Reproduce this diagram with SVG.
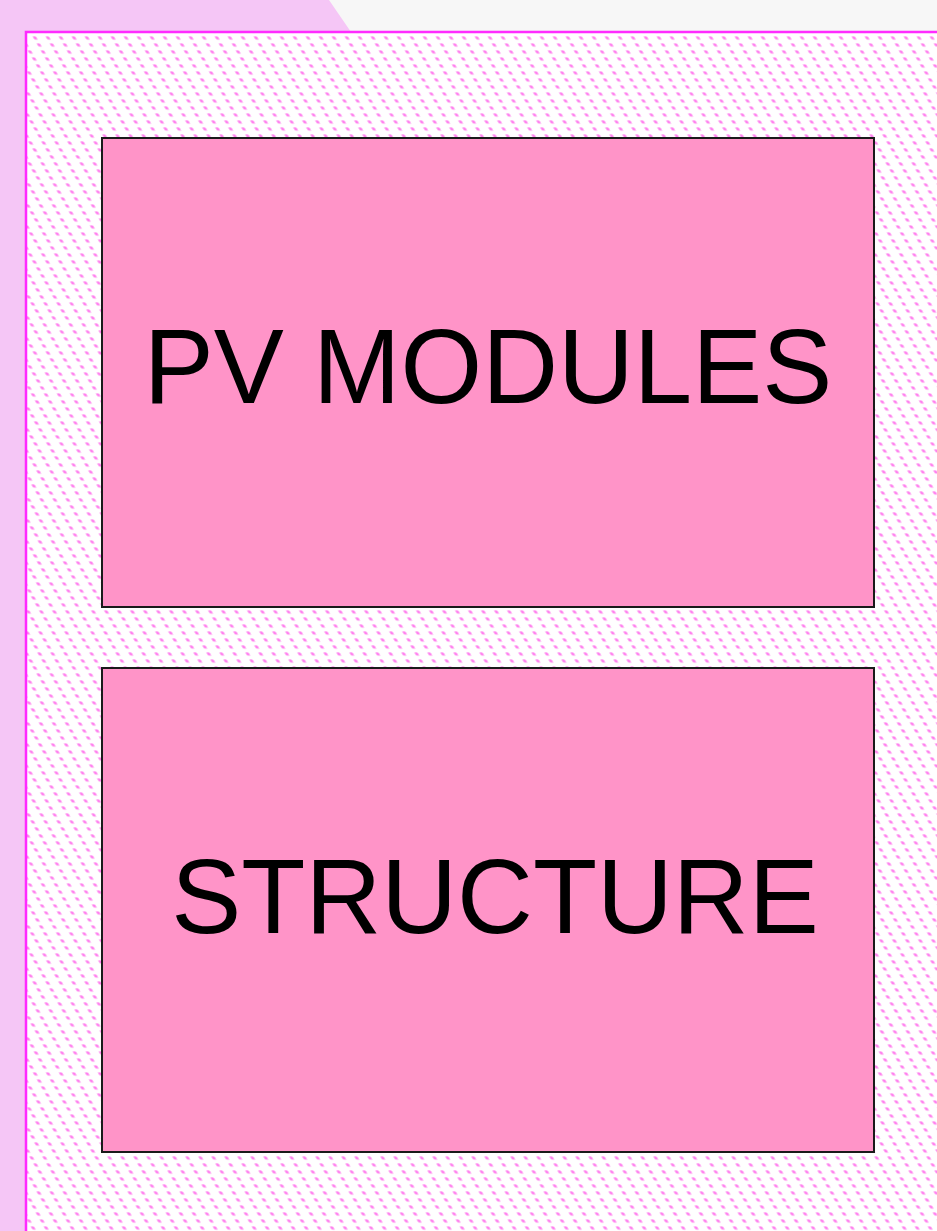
<svg xmlns="http://www.w3.org/2000/svg" width="937" height="1231" viewBox="0 0 937 1231">
  <defs>
    <pattern id="dots" width="13" height="7" patternUnits="userSpaceOnUse" patternTransform="translate(30,36) skewX(30)">
      <rect width="13" height="7" fill="#ffffff"/>
      <circle cx="4" cy="2" r="2.1" fill="#ffc0f6"/>
      <circle cx="4" cy="2" r="1.4" fill="#ff80ef"/>
    </pattern>
    <style>
      .box { fill: #ff94c8; stroke: #1a1a1a; stroke-width: 2; }
      .label { font-family: "Liberation Sans", Arial, sans-serif; font-size: 105px; fill: #000000; text-anchor: middle; }
    </style>
  </defs>

  <!-- page background -->
  <rect x="0" y="0" width="937" height="1231" fill="#f5c6f6"/>
  <polygon points="329,0 937,0 937,32 351,32" fill="#f7f7f7"/>

  <!-- dotted panel -->
  <rect x="26" y="32" width="920" height="1210" fill="url(#dots)" stroke="#ff2bff" stroke-width="2.5"/>

  <g id="pv-modules">
    <rect class="box" x="102" y="138" width="772" height="469"/>
    <text class="label" x="488" y="403">PV MODULES</text>
  </g>

  <g id="structure">
    <rect class="box" x="102" y="668" width="772" height="484"/>
    <text class="label" x="495" y="933">STRUCTURE</text>
  </g>

  <g id="connectors"/>
</svg>
